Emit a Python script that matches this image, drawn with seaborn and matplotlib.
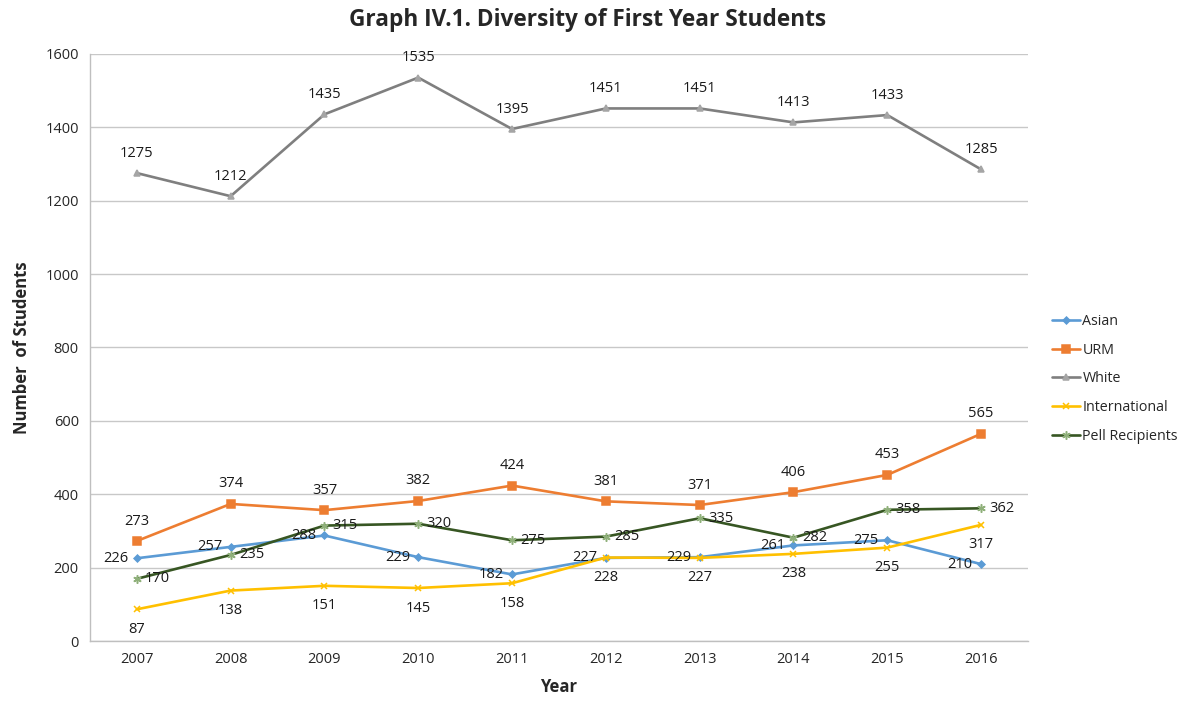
import matplotlib
matplotlib.use("Agg")
import matplotlib.pyplot as plt
import seaborn as sns
import pandas as pd
import numpy as np

years = ["2007", "2008", "2009", "2010", "2011", "2012", "2013", "2014", "2015", "2016"]
asian = [226, 257, 288, 229, 182, 227, 229, 261, 275, 210]
urm = [273, 374, 357, 382, 424, 381, 371, 406, 453, 565]
white = [1275, 1212, 1435, 1535, 1395, 1451, 1451, 1413, 1433, 1285]
international = [87, 138, 151, 145, 158, 228, 227, 238, 255, 317]
pell = [170, 235, 315, 320, 275, 285, 335, 282, 358, 362]

series_names = ["Asian", "URM", "White", "International", "Pell Recipients"]
series_values = [asian, urm, white, international, pell]

sns.set_theme(style="white")
plt.rcParams["font.family"] = ["Open Sans", "DejaVu Sans"]

frames = []
for name, vals in zip(series_names, series_values):
    frames.append(pd.DataFrame({"x": np.arange(len(years)), "Year": years, "Students": vals, "Group": name}))
df = pd.concat(frames, ignore_index=True)

colors = {"Asian": "#5B9BD5", "URM": "#ED7D31", "White": "#7F7F7F",
          "International": "#FFC000", "Pell Recipients": "#375623"}
markers = {"Asian": "D", "URM": "s", "White": "^", "International": "x", "Pell Recipients": (6, 2, 0)}
msizes = {"Asian": 3.5, "URM": 5.5, "White": 5, "International": 5, "Pell Recipients": 6}
mcolors = {"Asian": "#5B9BD5", "URM": "#ED7D31", "White": "#A5A5A5",
           "International": "#FFC000", "Pell Recipients": "#8FB07A"}
# label offsets in points (dx, dy) and alignment
offsets = {"Asian": ((-6, 0), "right", "center"),
           "URM": ((0, 9), "center", "bottom"),
           "White": ((0, 9), "center", "bottom"),
           "International": ((0, -9), "center", "top"),
           "Pell Recipients": ((6, 0), "left", "center")}

fig, ax = plt.subplots(figsize=(11.83, 7.07), dpi=100)
fig.subplots_adjust(left=0.076, right=0.869, top=0.924, bottom=0.093)

for name in series_names:
    sub = df[df["Group"] == name]
    sns.lineplot(data=sub, x="x", y="Students", ax=ax, color=colors[name], linewidth=1.9,
                 marker=markers[name], markersize=msizes[name], markerfacecolor=mcolors[name],
                 markeredgecolor=mcolors[name], markeredgewidth=1.1, label=name)
    (dx, dy), ha, va = offsets[name]
    for xi, v in zip(sub["x"], sub["Students"]):
        ax.annotate(str(v), (xi, v), xytext=(dx, dy), textcoords="offset points",
                    ha=ha, va=va, fontsize=10.5, color="#1a1a1a")

ax.set_xlim(-0.5, len(years) - 0.5)
ax.set_ylim(0, 1600)
ax.set_yticks(range(0, 1601, 200))
ax.set_xticks(np.arange(len(years)))
ax.set_xticklabels(years)
ax.set_xticks(np.arange(-0.5, len(years), 1.0), minor=True)
ax.tick_params(axis="x", which="major", length=0, labelsize=10.5, pad=8)
ax.tick_params(axis="x", which="minor", length=5, color="#BFBFBF", width=1, direction="out")
ax.tick_params(axis="y", length=0, labelsize=10.5, pad=8)
ax.yaxis.grid(True, color="#C8C8C8", linewidth=1)
ax.set_axisbelow(True)
for side in ["top", "right"]:
    ax.spines[side].set_visible(False)
for side in ["left", "bottom"]:
    ax.spines[side].set_color("#BFBFBF")
    ax.spines[side].set_linewidth(1)

ax.set_xlabel("Year", fontsize=12, fontweight="bold", labelpad=8)
ax.set_ylabel("Number  of Students", fontsize=12, fontweight="bold", labelpad=10)
fig.suptitle("Graph IV.1. Diversity of First Year Students", fontsize=16.3, fontweight="bold",
             x=0.497, y=0.988)

leg = ax.legend(loc="center left", bbox_to_anchor=(0.878, 0.464), bbox_transform=fig.transFigure,
                frameon=False, fontsize=10.3, handlelength=2.0, handletextpad=0.15, labelspacing=0.95)

fig.savefig("out.png", dpi=100)
